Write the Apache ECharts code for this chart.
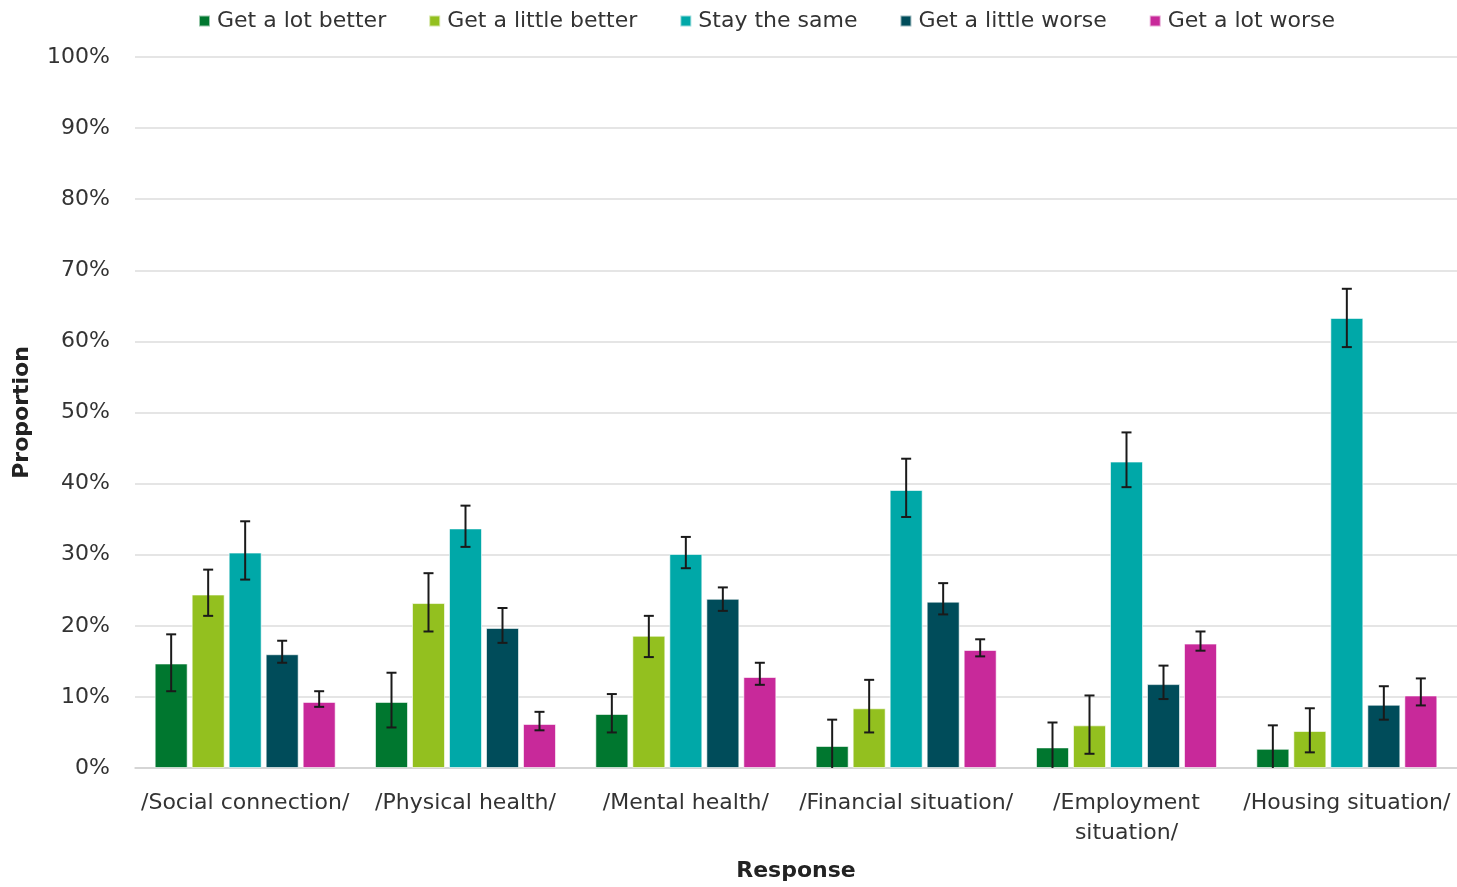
<!DOCTYPE html>
<html>
<head>
<meta charset="utf-8">
<script src="https://cdn.jsdelivr.net/npm/echarts@6/dist/echarts.min.js"></script>
<style>html,body{margin:0;padding:0;background:#fff}#c{width:1457px;height:887px}</style>
</head>
<body>
<div id="c"></div>
<script>
// ---- data ----
const categories = ['/Social connection/', '/Physical health/', '/Mental health/', '/Financial situation/', '/Employment\nsituation/', '/Housing situation/'];
const seriesNames = ['Get a lot better', 'Get a little better', 'Stay the same', 'Get a little worse', 'Get a lot worse'];
const yTicks = [0, 10, 20, 30, 40, 50, 60, 70, 80, 90, 100];

const lotBetter      = [14.7, 9.3, 7.6, 3.1, 2.9, 2.7];
const lotBetterLow   = [10.8, 5.7, 5.0, 0, 0, 0];
const lotBetterHigh  = [18.8, 13.4, 10.4, 6.8, 6.4, 6.0];

const littleBetter     = [24.4, 23.2, 18.6, 8.4, 6.0, 5.2];
const littleBetterLow  = [21.4, 19.2, 15.6, 5.0, 2.0, 2.2];
const littleBetterHigh = [27.9, 27.4, 21.4, 12.4, 10.2, 8.4];

const staySame     = [30.3, 33.7, 30.1, 39.1, 43.1, 63.3];
const staySameLow  = [26.5, 31.1, 28.1, 35.3, 39.5, 59.2];
const staySameHigh = [34.7, 36.9, 32.5, 43.5, 47.2, 67.4];

const littleWorse     = [16.0, 19.7, 23.8, 23.4, 11.8, 8.9];
const littleWorseLow  = [14.8, 17.6, 22.1, 21.6, 9.7, 6.8];
const littleWorseHigh = [17.9, 22.5, 25.4, 26.0, 14.4, 11.5];

const lotWorse     = [9.3, 6.2, 12.8, 16.6, 17.5, 10.2];
const lotWorseLow  = [8.6, 5.3, 11.7, 15.7, 16.5, 8.8];
const lotWorseHigh = [10.8, 7.9, 14.8, 18.1, 19.2, 12.6];

// ---- style ----
const colors = ['#00772F', '#93C01F', '#00A8A8', '#004C5A', '#C8299A'];
const FONT = 'DejaVu Sans';
const FS = 22;
const BAR_W = 33, BAR_GAP = 4, CAP = 10;

const values = [lotBetter, littleBetter, staySame, littleWorse, lotWorse];
const lows = [lotBetterLow, littleBetterLow, staySameLow, littleWorseLow, lotWorseLow];
const highs = [lotBetterHigh, littleBetterHigh, staySameHigh, littleWorseHigh, lotWorseHigh];

const series = [];
values.forEach((v, i) => {
  series.push({
    name: seriesNames[i], type: 'bar', data: v, barWidth: BAR_W, barGap: (BAR_GAP / BAR_W * 100) + '%',
    itemStyle: { color: colors[i], borderColor: 'rgba(255,255,255,0.6)', borderWidth: 1 }
  });
});
const total = 5 * BAR_W + 4 * BAR_GAP;
values.forEach((v, i) => {
  const offset = -total / 2 + BAR_W / 2 + i * (BAR_W + BAR_GAP);
  series.push({
    type: 'custom', name: seriesNames[i] + ' error', z: 10, silent: true,
    data: categories.map((c, k) => [k, lows[i][k], highs[i][k]]),
    renderItem: function (params, api) {
      const k = api.value(0);
      const lo = api.coord([k, api.value(1)]);
      const hi = api.coord([k, api.value(2)]);
      const x = lo[0] + offset;
      const style = { stroke: '#1a1a1a', lineWidth: 2 };
      const children = [
        { type: 'line', shape: { x1: x, y1: lo[1], x2: x, y2: hi[1] }, style },
        { type: 'line', shape: { x1: x - CAP / 2, y1: hi[1], x2: x + CAP / 2, y2: hi[1] }, style }
      ];
      if (api.value(1) > 0) children.push({ type: 'line', shape: { x1: x - CAP / 2, y1: lo[1], x2: x + CAP / 2, y2: lo[1] }, style });
      return { type: 'group', children };
    }
  });
});

const chart = echarts.init(document.getElementById('c'));
chart.setOption({
  animation: false,
  color: colors,
  textStyle: { fontFamily: FONT },
  legend: {
    data: seriesNames, top: 5, left: 193, itemWidth: 11, itemHeight: 11, itemGap: 42,
    icon: 'rect',
    textStyle: { fontFamily: FONT, fontSize: FS, color: '#333', padding: [0, 0, 0, 2] }
  },
  grid: { left: 135, right: 0, top: 57, bottom: 116 },
  xAxis: {
    type: 'category', data: categories,
    name: 'Response', nameLocation: 'middle', nameGap: 92,
    nameTextStyle: { fontFamily: FONT, fontSize: FS, fontWeight: 'bold', color: '#222' },
    axisLine: { lineStyle: { color: '#d0d0d0', width: 1.5 } },
    axisTick: { show: false },
    axisLabel: { fontFamily: FONT, fontSize: FS, color: '#333', margin: 20, lineHeight: 30, interval: 0 }
  },
  yAxis: {
    type: 'value', min: yTicks[0], max: yTicks[yTicks.length - 1], interval: yTicks[1] - yTicks[0],
    name: 'Proportion', nameLocation: 'middle', nameGap: 102, nameRotate: 90,
    nameTextStyle: { fontFamily: FONT, fontSize: FS, fontWeight: 'bold', color: '#222' },
    axisLine: { show: false }, axisTick: { show: false },
    splitLine: { lineStyle: { color: '#dcdcdc', width: 1.5 } },
    axisLabel: { fontFamily: FONT, fontSize: FS, color: '#333', margin: 25, formatter: '{value}%' }
  },
  series
});
</script>
</body>
</html>
